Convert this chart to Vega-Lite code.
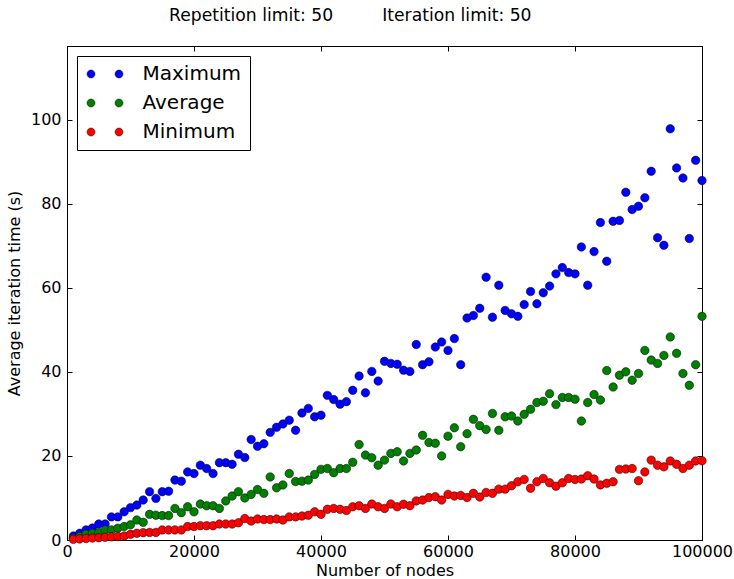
{
  "$schema": "https://vega.github.io/schema/vega-lite/v6.json",
  "autosize": "none",
  "width": 635,
  "height": 494,
  "padding": {"left": 67, "top": 46, "right": 32, "bottom": 39},
  "background": "white",
  "title": {
    "text": "Repetition limit: 50\u00a0\u00a0\u00a0\u00a0\u00a0\u00a0\u00a0\u00a0\u00a0Iteration limit: 50",
    "font": "DejaVu Sans",
    "fontSize": 17.2,
    "fontWeight": "normal",
    "color": "black",
    "anchor": "start",
    "frame": "group",
    "dx": 102,
    "baseline": "alphabetic",
    "offset": 7
  },
  "config": {
    "font": "DejaVu Sans",
    "view": {"stroke": "black", "strokeWidth": 1},
    "axis": {
      "grid": false,
      "domainColor": "black",
      "tickColor": "black",
      "tickSize": -5,
      "labelColor": "black",
      "labelFontSize": 16,
      "labelFont": "DejaVu Sans",
      "titleFont": "DejaVu Sans",
      "titleFontSize": 16,
      "titleFontWeight": "normal",
      "titleColor": "black"
    }
  },
  "data": {
    "values": [
      {"n":1000,"Maximum":0.95,"Average":0.4,"Minimum":0.15},
      {"n":2000,"Maximum":1.6,"Average":0.8,"Minimum":0.25},
      {"n":3000,"Maximum":2.4,"Average":1.35,"Minimum":0.35},
      {"n":4000,"Maximum":2.85,"Average":1.6,"Minimum":0.45},
      {"n":5000,"Maximum":3.8,"Average":1.75,"Minimum":0.55},
      {"n":6000,"Maximum":3.8,"Average":2.4,"Minimum":0.65},
      {"n":7000,"Maximum":5.5,"Average":2.4,"Minimum":0.75},
      {"n":8000,"Maximum":5.5,"Average":2.8,"Minimum":0.85},
      {"n":9000,"Maximum":6.7,"Average":3.2,"Minimum":0.95},
      {"n":10000,"Maximum":7.7,"Average":3.6,"Minimum":1.35},
      {"n":11000,"Maximum":8.3,"Average":4.75,"Minimum":1.6},
      {"n":12000,"Maximum":9.5,"Average":4.2,"Minimum":1.75},
      {"n":13000,"Maximum":11.5,"Average":6.1,"Minimum":1.8},
      {"n":14000,"Maximum":9.9,"Average":5.9,"Minimum":1.8},
      {"n":15000,"Maximum":11.5,"Average":5.8,"Minimum":2.4},
      {"n":16000,"Maximum":11.6,"Average":5.8,"Minimum":2.4},
      {"n":17000,"Maximum":14.25,"Average":7.5,"Minimum":2.4},
      {"n":18000,"Maximum":14.0,"Average":6.5,"Minimum":2.4},
      {"n":19000,"Maximum":16.2,"Average":7.9,"Minimum":3.2},
      {"n":20000,"Maximum":15.8,"Average":6.7,"Minimum":3.2},
      {"n":21000,"Maximum":17.8,"Average":8.55,"Minimum":3.4},
      {"n":22000,"Maximum":17.0,"Average":8.15,"Minimum":3.4},
      {"n":23000,"Maximum":15.8,"Average":8.15,"Minimum":3.4},
      {"n":24000,"Maximum":18.4,"Average":7.5,"Minimum":3.8},
      {"n":25000,"Maximum":18.4,"Average":9.3,"Minimum":3.8},
      {"n":26000,"Maximum":18.0,"Average":10.45,"Minimum":3.8},
      {"n":27000,"Maximum":20.4,"Average":11.5,"Minimum":4.1},
      {"n":28000,"Maximum":19.6,"Average":10.0,"Minimum":5.1},
      {"n":29000,"Maximum":23.9,"Average":10.85,"Minimum":4.5},
      {"n":30000,"Maximum":22.3,"Average":12.0,"Minimum":5.0},
      {"n":31000,"Maximum":22.9,"Average":11.1,"Minimum":4.85},
      {"n":32000,"Maximum":25.6,"Average":15.0,"Minimum":4.85},
      {"n":33000,"Maximum":26.8,"Average":12.4,"Minimum":5.0},
      {"n":34000,"Maximum":27.6,"Average":13.1,"Minimum":4.75},
      {"n":35000,"Maximum":28.5,"Average":15.8,"Minimum":5.5},
      {"n":36000,"Maximum":26.1,"Average":13.9,"Minimum":5.5},
      {"n":37000,"Maximum":30.2,"Average":14.0,"Minimum":5.7},
      {"n":38000,"Maximum":31.3,"Average":14.25,"Minimum":5.9},
      {"n":39000,"Maximum":29.3,"Average":15.6,"Minimum":6.7},
      {"n":40000,"Maximum":29.7,"Average":16.8,"Minimum":6.1},
      {"n":41000,"Maximum":34.4,"Average":17.0,"Minimum":7.3},
      {"n":42000,"Maximum":33.4,"Average":16.0,"Minimum":7.5},
      {"n":43000,"Maximum":32.3,"Average":17.0,"Minimum":7.3},
      {"n":44000,"Maximum":32.9,"Average":17.0,"Minimum":7.0},
      {"n":45000,"Maximum":35.6,"Average":18.5,"Minimum":7.9},
      {"n":46000,"Maximum":39.0,"Average":22.7,"Minimum":8.15},
      {"n":47000,"Maximum":35.0,"Average":20.2,"Minimum":7.5},
      {"n":48000,"Maximum":40.1,"Average":19.55,"Minimum":8.55},
      {"n":49000,"Maximum":37.8,"Average":17.8,"Minimum":7.9},
      {"n":50000,"Maximum":42.5,"Average":19.0,"Minimum":7.5},
      {"n":51000,"Maximum":42.0,"Average":20.6,"Minimum":8.55},
      {"n":52000,"Maximum":41.8,"Average":21.0,"Minimum":7.9},
      {"n":53000,"Maximum":40.4,"Average":18.8,"Minimum":8.5},
      {"n":54000,"Maximum":40.1,"Average":20.6,"Minimum":8.15},
      {"n":55000,"Maximum":46.5,"Average":21.4,"Minimum":9.3},
      {"n":56000,"Maximum":41.7,"Average":24.9,"Minimum":9.5},
      {"n":57000,"Maximum":42.4,"Average":23.2,"Minimum":10.1},
      {"n":58000,"Maximum":45.9,"Average":23.0,"Minimum":10.3},
      {"n":59000,"Maximum":47.1,"Average":20.0,"Minimum":9.5},
      {"n":60000,"Maximum":45.1,"Average":24.7,"Minimum":10.85},
      {"n":61000,"Maximum":47.9,"Average":26.7,"Minimum":10.45},
      {"n":62000,"Maximum":41.7,"Average":22.2,"Minimum":10.6},
      {"n":63000,"Maximum":52.8,"Average":25.3,"Minimum":10.1},
      {"n":64000,"Maximum":53.4,"Average":28.7,"Minimum":11.1},
      {"n":65000,"Maximum":55.1,"Average":27.2,"Minimum":10.2},
      {"n":66000,"Maximum":62.5,"Average":26.3,"Minimum":11.3},
      {"n":67000,"Maximum":53.0,"Average":30.1,"Minimum":11.1},
      {"n":68000,"Maximum":60.6,"Average":26.1,"Minimum":12.1},
      {"n":69000,"Maximum":54.6,"Average":29.3,"Minimum":12.1},
      {"n":70000,"Maximum":53.8,"Average":29.5,"Minimum":12.9},
      {"n":71000,"Maximum":53.2,"Average":28.3,"Minimum":13.85},
      {"n":72000,"Maximum":56.0,"Average":29.9,"Minimum":14.4},
      {"n":73000,"Maximum":59.1,"Average":31.1,"Minimum":12.3},
      {"n":74000,"Maximum":56.2,"Average":32.7,"Minimum":13.85},
      {"n":75000,"Maximum":58.8,"Average":33.0,"Minimum":14.65},
      {"n":76000,"Maximum":60.4,"Average":34.8,"Minimum":13.6},
      {"n":77000,"Maximum":63.3,"Average":32.2,"Minimum":12.8},
      {"n":78000,"Maximum":64.8,"Average":33.9,"Minimum":13.6},
      {"n":79000,"Maximum":63.6,"Average":33.9,"Minimum":14.65},
      {"n":80000,"Maximum":63.3,"Average":33.5,"Minimum":14.4},
      {"n":81000,"Maximum":69.7,"Average":28.3,"Minimum":14.5},
      {"n":82000,"Maximum":60.6,"Average":32.7,"Minimum":15.3},
      {"n":83000,"Maximum":68.6,"Average":34.6,"Minimum":14.5},
      {"n":84000,"Maximum":75.5,"Average":33.3,"Minimum":13.1},
      {"n":85000,"Maximum":66.3,"Average":40.3,"Minimum":13.5},
      {"n":86000,"Maximum":75.8,"Average":36.4,"Minimum":13.85},
      {"n":87000,"Maximum":76.0,"Average":39.2,"Minimum":16.8},
      {"n":88000,"Maximum":82.7,"Average":40.0,"Minimum":16.9},
      {"n":89000,"Maximum":78.6,"Average":38.0,"Minimum":17.0},
      {"n":90000,"Maximum":79.4,"Average":39.6,"Minimum":14.1},
      {"n":91000,"Maximum":81.4,"Average":45.1,"Minimum":16.2},
      {"n":92000,"Maximum":87.7,"Average":42.8,"Minimum":19.0},
      {"n":93000,"Maximum":71.9,"Average":42.0,"Minimum":17.8},
      {"n":94000,"Maximum":70.1,"Average":43.9,"Minimum":17.4},
      {"n":95000,"Maximum":97.8,"Average":48.3,"Minimum":18.8},
      {"n":96000,"Maximum":88.5,"Average":44.4,"Minimum":18.0},
      {"n":97000,"Maximum":86.1,"Average":39.6,"Minimum":17.0},
      {"n":98000,"Maximum":71.7,"Average":36.8,"Minimum":17.8},
      {"n":99000,"Maximum":90.3,"Average":41.7,"Minimum":18.8},
      {"n":100000,"Maximum":85.5,"Average":53.2,"Minimum":18.85}
    ]
  },
  "transform": [
    {"fold": ["Maximum", "Average", "Minimum"], "as": ["series", "time"]}
  ],
  "resolve": {"axis": {"x": "independent", "y": "independent"}},
  "layer": [
    {
      "transform": [{"filter": "datum.series === 'Maximum'"}],
      "mark": {"type": "point", "shape": "circle", "filled": true, "opacity": 1, "size": 72, "stroke": "black", "strokeWidth": 0.5},
      "encoding": {
        "x": {
          "field": "n", "type": "quantitative",
          "scale": {"domain": [0, 100000], "nice": false, "zero": false},
          "axis": {"orient": "bottom", "values": [0, 20000, 40000, 60000, 80000, 100000], "format": "d", "labelFlush": false, "labelPadding": 8, "title": "Number of nodes", "titlePadding": 3}
        },
        "y": {
          "field": "time", "type": "quantitative",
          "scale": {"domain": [0, 117.5], "nice": false, "zero": false},
          "axis": {"orient": "left", "values": [0, 20, 40, 60, 80, 100], "labelPadding": 11, "title": "Average iteration time (s)", "titlePadding": 8}
        },
        "color": {
          "field": "series", "type": "nominal",
          "scale": {"domain": ["Maximum", "Average", "Minimum"], "range": ["#0000ff", "#008000", "#ff0000"]},
          "legend": {
            "title": null,
            "orient": "top-left",
            "offset": 10,
            "padding": 8,
            "strokeColor": "black",
            "fillColor": "white",
            "cornerRadius": 0,
            "labelFontSize": 20,
            "labelFont": "DejaVu Sans",
            "labelColor": "black",
            "symbolType": "M-2,0A1,1 0 1,1 0,0A1,1 0 1,1 -2,0ZM5,0A1,1 0 1,1 7,0A1,1 0 1,1 5,0Z",
            "symbolSize": 64,
            "symbolStrokeColor": "black",
            "symbolStrokeWidth": 0.5,
            "rowPadding": 9,
            "labelOffset": 37.5
          }
        }
      }
    },
    {
      "transform": [{"filter": "datum.series === 'Average'"}],
      "mark": {"type": "point", "shape": "circle", "filled": true, "opacity": 1, "size": 72, "stroke": "black", "strokeWidth": 0.5},
      "encoding": {
        "x": {"field": "n", "type": "quantitative", "axis": null},
        "y": {"field": "time", "type": "quantitative", "axis": null},
        "color": {"field": "series", "type": "nominal"}
      }
    },
    {
      "transform": [{"filter": "datum.series === 'Minimum'"}],
      "mark": {"type": "point", "shape": "circle", "filled": true, "opacity": 1, "size": 72, "stroke": "black", "strokeWidth": 0.5},
      "encoding": {
        "x": {"field": "n", "type": "quantitative", "axis": null},
        "y": {"field": "time", "type": "quantitative", "axis": null},
        "color": {"field": "series", "type": "nominal"}
      }
    },
    {
      "mark": {"type": "point", "opacity": 0},
      "encoding": {
        "x": {"field": "n", "type": "quantitative", "axis": {"orient": "top", "values": [0, 20000, 40000, 60000, 80000, 100000], "labels": false, "title": null}},
        "y": {"field": "time", "type": "quantitative", "axis": {"orient": "right", "values": [0, 20, 40, 60, 80, 100], "labels": false, "title": null}}
      }
    }
  ]
}
